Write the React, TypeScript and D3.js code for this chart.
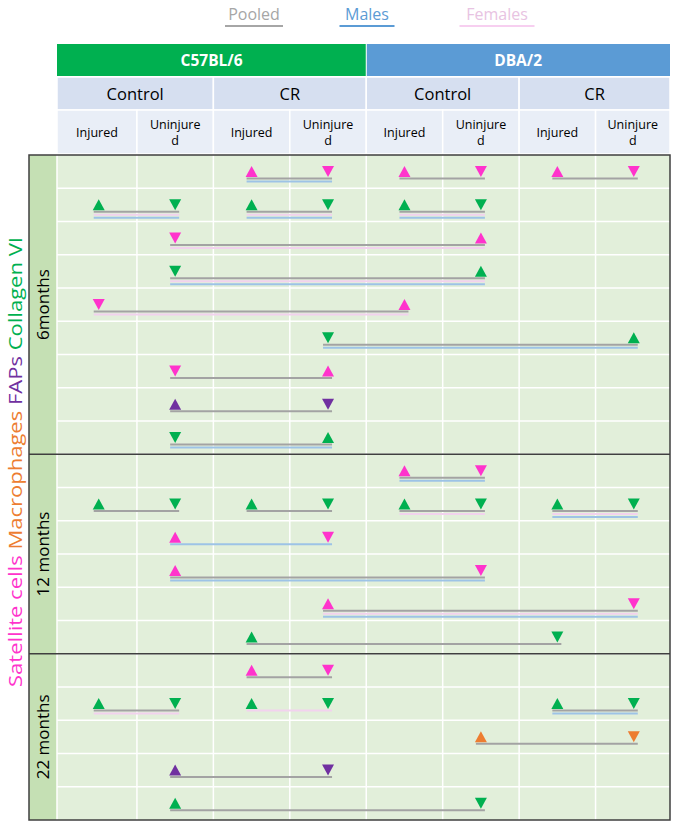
import React from "react";
import * as d3 from "d3";

const legendLabels = ["Pooled", "Males", "Females"];
const strains = ["C57BL/6", "DBA/2"];
const diets = ["Control", "CR", "Control", "CR"];
const injuryLabels = [["Injured"], ["Uninjure", "d"], ["Injured"], ["Uninjure", "d"], ["Injured"], ["Uninjure", "d"], ["Injured"], ["Uninjure", "d"]];
const ageLabels = ["6months", "12 months", "22 months"];
const ageRowCounts = [9, 6, 5];
const markerNames = ["Satellite cells", "Macrophages", "FAPs", "Collagen VI"];
// comparisons: [row, marker, fromCol, toCol, fromDir, toDir, lines]
const comparisons: [number, string, number, number, string, string, string][] = [
  [0, "Satellite cells", 2, 3, "up", "down", "PM"],
  [0, "Satellite cells", 4, 5, "up", "down", "P"],
  [0, "Satellite cells", 6, 7, "up", "down", "P"],
  [1, "Collagen VI", 0, 1, "up", "down", "PFM"],
  [1, "Collagen VI", 2, 3, "up", "down", "PFM"],
  [1, "Collagen VI", 4, 5, "up", "down", "PFM"],
  [2, "Satellite cells", 1, 5, "down", "up", "PF"],
  [3, "Collagen VI", 1, 5, "down", "up", "PFM"],
  [4, "Satellite cells", 0, 4, "down", "up", "PF"],
  [5, "Collagen VI", 3, 7, "down", "up", "PM"],
  [6, "Satellite cells", 1, 3, "down", "up", "P"],
  [7, "FAPs", 1, 3, "up", "down", "P"],
  [8, "Collagen VI", 1, 3, "down", "up", "PM"],
  [9, "Satellite cells", 4, 5, "up", "down", "PM"],
  [10, "Collagen VI", 0, 1, "up", "down", "P"],
  [10, "Collagen VI", 2, 3, "up", "down", "P"],
  [10, "Collagen VI", 4, 5, "up", "down", "PF"],
  [10, "Collagen VI", 6, 7, "up", "down", "PFM"],
  [11, "Satellite cells", 1, 3, "up", "down", "M"],
  [12, "Satellite cells", 1, 5, "up", "down", "PM"],
  [13, "Satellite cells", 3, 7, "up", "down", "PFM"],
  [14, "Collagen VI", 2, 6, "up", "down", "P"],
  [15, "Satellite cells", 2, 3, "up", "down", "P"],
  [16, "Collagen VI", 0, 1, "up", "down", "PF"],
  [16, "Collagen VI", 2, 3, "up", "down", "F"],
  [16, "Collagen VI", 6, 7, "up", "down", "PM"],
  [17, "Macrophages", 5, 7, "up", "down", "P"],
  [18, "FAPs", 1, 3, "up", "down", "P"],
  [19, "Collagen VI", 1, 5, "up", "down", "P"],
];

const markerColor: Record<string, string> = {
  "Satellite cells": "#FF33CC",
  Macrophages: "#ED7D31",
  FAPs: "#7030A0",
  "Collagen VI": "#00B050",
};
const lineColor: Record<string, string> = { P: "#A3A3A3", M: "#9DC3E6", F: "#F2D2EE" };
const legendText = ["#A6A6A6", "#5B9BD5", "#E8C3E2"];
const legendLine = ["#A6A6A6", "#5B9BD5", "#F7CFF0"];
const FONT = "'Open Sans', 'Noto Sans', sans-serif";

export default function App() {
  const W = 675, H = 823;
  const left = 57, right = 670, top = 155, bottom = 820, outerLeft = 29;
  const nRows = d3.sum(ageRowCounts);
  const x = d3.scaleBand<number>().domain(d3.range(8)).range([60.5, 672]);
  const y = d3.scaleBand<number>().domain(d3.range(nRows)).range([top, bottom]);
  const bw = x.bandwidth();
  const rh = y.bandwidth();
  const cx = (i: number) => (x(i) as number) + bw / 2;
  const bx0 = (i: number) => (i === 0 ? left : (x(i) as number));
  const bx1 = (i: number) => (i >= 7 ? right : (x(i + 1) as number));
  const sectionStarts = ageRowCounts.map((_, i) => d3.sum(ageRowCounts.slice(0, i)));

  const tri = (xc: number, yTop: number, dir: string) => {
    const w = 6, h = 11;
    return dir === "up"
      ? `M${xc - w},${yTop + h}L${xc + w},${yTop + h}L${xc},${yTop}Z`
      : `M${xc - w},${yTop}L${xc + w},${yTop}L${xc},${yTop + h}Z`;
  };

  const legendX = [254, 367, 497];
  const legendW = [58, 55, 75];

  return (
    <svg width={W} height={H} style={{ position: "absolute", left: 0, top: 0, background: "#fff" }} fontFamily={FONT}>
      {/* legend */}
      {legendLabels.map((l, i) => (
        <g key={l}>
          <text x={legendX[i]} y={20} textAnchor="middle" fontSize={16} fill={legendText[i]}>{l}</text>
          <line x1={legendX[i] - legendW[i] / 2} x2={legendX[i] + legendW[i] / 2} y1={26} y2={26} stroke={legendLine[i]} strokeWidth={2} />
        </g>
      ))}
      {/* header row 1 */}
      {strains.map((s, i) => {
        const x0 = bx0(i * 4);
        const x1 = bx1(i * 4 + 3);
        return (
          <g key={s}>
            <rect x={x0} y={44} width={x1 - x0} height={32} fill={i === 0 ? "#00B050" : "#5B9BD5"} />
            <text x={(x0 + x1) / 2} y={66} textAnchor="middle" fontSize={15.5} fontWeight="bold" fill="#fff">{s}</text>
          </g>
        );
      })}
      <line x1={x(4) as number} x2={x(4) as number} y1={44} y2={76} stroke="#fff" strokeWidth={1} />
      {/* header row 2 */}
      {diets.map((d, i) => {
        const x0 = bx0(i * 2);
        const x1 = bx1(i * 2 + 1);
        return (
          <g key={i}>
            <rect x={x0} y={77} width={x1 - x0} height={33} fill="#D6DFF0" stroke="#fff" strokeWidth={1.5} />
            <text x={(x0 + x1) / 2} y={100} textAnchor="middle" fontSize={16.5} fill="#000">{d}</text>
          </g>
        );
      })}
      {/* header row 3 */}
      {injuryLabels.map((lines, i) => {
        const x0 = bx0(i);
        const x1 = bx1(i);
        return (
          <g key={i}>
            <rect x={x0} y={110} width={x1 - x0} height={44} fill="#E9EEF7" stroke="#fff" strokeWidth={1.5} />
            {lines.map((t, j) => (
              <text key={j} x={(x0 + x1) / 2} y={lines.length === 1 ? 137 : 129 + j * 16} textAnchor="middle" fontSize={12.5} fill="#000">{t}</text>
            ))}
          </g>
        );
      })}
      {/* body background */}
      <rect x={outerLeft} y={top} width={left - outerLeft} height={bottom - top} fill="#C5E0B4" />
      <rect x={left} y={top} width={right - left} height={bottom - top} fill="#E2EFDA" />
      {/* grid */}
      {d3.range(1, 8).map((i) => (
        <line key={"v" + i} x1={x(i) as number} x2={x(i) as number} y1={top} y2={bottom} stroke="#fff" strokeWidth={1.5} />
      ))}
      {d3.range(1, nRows).map((r) => (
        <line key={"h" + r} x1={left} x2={right} y1={y(r) as number} y2={y(r) as number} stroke="#fff" strokeWidth={1.5} />
      ))}
      <line x1={left} x2={left} y1={top} y2={bottom} stroke="#fff" strokeWidth={1.5} />
      {/* section borders */}
      {sectionStarts.slice(1).map((s) => (
        <line key={"s" + s} x1={outerLeft} x2={right} y1={y(s) as number} y2={y(s) as number} stroke="#3F3F3F" strokeWidth={1.5} />
      ))}
      <rect x={outerLeft} y={top} width={right - outerLeft} height={bottom - top} fill="none" stroke="#3F3F3F" strokeWidth={1.5} />
      {/* age labels */}
      {ageLabels.map((a, i) => {
        const y0 = y(sectionStarts[i]) as number;
        const y1 = y0 + ageRowCounts[i] * rh;
        const ym = (y0 + y1) / 2;
        return (
          <text key={a} transform={`translate(49,${ym}) rotate(-90)`} textAnchor="middle" fontSize={17} fill="#000">{a}</text>
        );
      })}
      {/* marker name label */}
      <text transform={`translate(22,462) rotate(-90)`} textAnchor="middle" fontSize={19} textLength={450} lengthAdjust="spacingAndGlyphs">
        {markerNames.map((m, i) => (
          <tspan key={m} fill={markerColor[m]}>{(i ? " " : "") + m}</tspan>
        ))}
      </text>
      {/* comparisons */}
      {comparisons.map(([row, m, c1, c2, d1, d2, lines], k) => {
        const rt = y(row) as number;
        const xa = cx(c1), xb = cx(c2);
        const x1 = Math.min(xa, xb) - 5, x2 = Math.max(xa, xb) + 4;
        return (
          <g key={k}>
            {lines.split("").map((l, j) => (
              <line key={l} x1={x1} x2={x2} y1={rt + 23.5 + j * 3} y2={rt + 23.5 + j * 3} stroke={lineColor[l]} strokeWidth={2} />
            ))}
            <path d={tri(xa, rt + 11, d1)} fill={markerColor[m]} />
            <path d={tri(xb, rt + 11, d2)} fill={markerColor[m]} />
          </g>
        );
      })}
    </svg>
  );
}
